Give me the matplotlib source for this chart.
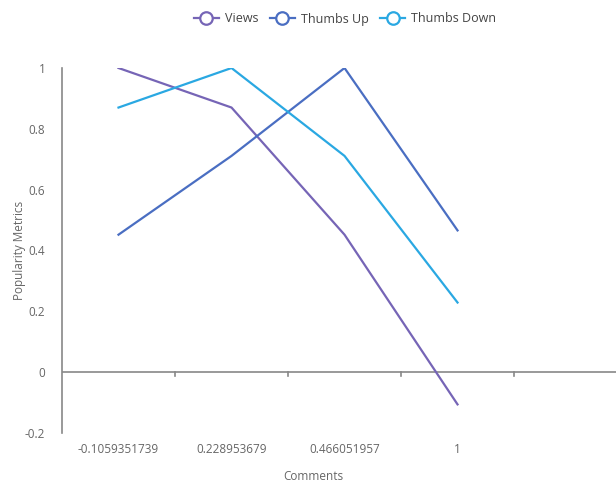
import matplotlib.pyplot as plt

plt.rcParams['font.family'] = ['Open Sans', 'DejaVu Sans']

comments = ['-0.1059351739', '0.228953679', '0.466051957', '1']
views = [1, 0.870, 0.452, -0.1059351739]
thumbs_up = [0.452, 0.711, 1, 0.466051957]
thumbs_down = [0.870, 1, 0.711, 0.228953679]

colors = {'Views': '#7665b6', 'Thumbs Up': '#4a6ec2', 'Thumbs Down': '#2aa8e2'}
grey = '#666666'

fig = plt.figure(figsize=(6.16, 4.84), dpi=100)
ax = fig.add_axes([62 / 616, 51 / 484, 556 / 616, 365 / 484])

x = list(range(len(comments)))
for name, vals in [('Views', views), ('Thumbs Up', thumbs_up), ('Thumbs Down', thumbs_down)]:
    ax.plot(x, vals, color=colors[name], lw=1.6, label=name)

ax.set_xlim(-0.5, 4.42)
ax.set_ylim(-0.2, 1)

# zero line with category-boundary ticks
ax.axhline(0, color='#888888', lw=1.2, zorder=0)
for b in [0.5, 1.5, 2.5, 3.5]:
    ax.plot([b, b], [0, -0.012], color='#888888', lw=1.2, clip_on=False)

for s in ['top', 'right', 'bottom']:
    ax.spines[s].set_visible(False)
ax.spines['left'].set_color('#888888')
ax.spines['left'].set_linewidth(1.2)

ax.set_xticks(x)
ax.set_xticklabels(comments)
ax.set_yticks([-0.2, 0, 0.2, 0.4, 0.6, 0.8, 1])
ax.set_yticklabels(['-0.2', '0', '0.2', '0.4', '0.6', '0.8', '1'])
ax.tick_params(axis='both', length=0, labelsize=8.5, colors=grey)
ax.tick_params(axis='x', pad=7)
ax.tick_params(axis='y', pad=12)

ax.set_xlabel('Comments', fontsize=8.5, color=grey)
ax.xaxis.set_label_coords((313 - 62) / 556, -(476 - 433) / 365)
ax.xaxis.label.set_va('center')
ax.set_ylabel('Popularity Metrics', fontsize=8.5, color=grey)
ax.yaxis.set_label_coords(-(62 - 20) / 556, 0.5)
ax.yaxis.label.set_va('center')

handles = [plt.Line2D([], [], color=colors[n], lw=1.6, marker='o', markersize=9,
                      markerfacecolor='white', markeredgewidth=1.6) for n in colors]
fig.legend(handles, list(colors), loc='center', bbox_to_anchor=(345 / 616, 1 - 19 / 484),
           ncol=3, frameon=False, fontsize=9, handlelength=2.0, columnspacing=0.9,
           handletextpad=0.5, labelcolor='#444444')

plt.savefig('out.png', dpi=100)
